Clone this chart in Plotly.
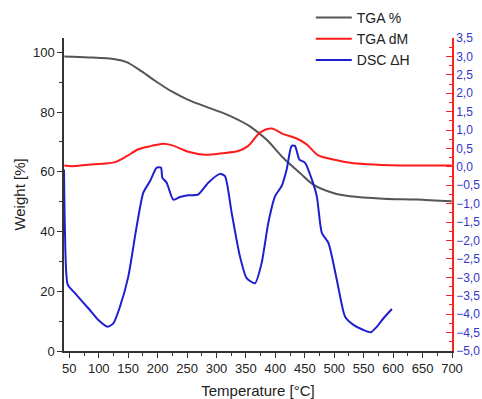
import plotly.graph_objects as go

# TGA % (left axis)
tga_x = [41.5, 82.3, 127.6, 147.5, 173, 195.5, 223.9, 252, 280.5, 308.8, 337, 356.9, 385.3,
         413.5, 441.8, 464.4, 498.4, 527, 583.3, 640, 699.5]
tga_y = [98.6, 98.3, 97.7, 96.7, 93.6, 90.5, 86.9, 84.1, 81.9, 79.9, 77.4, 75.2, 70.7,
         64.6, 59.6, 55.7, 52.9, 51.8, 51.0, 50.7, 50.1]

# TGA dM (right axis)
dm_x = [41.5, 54, 82.3, 110.6, 127.6, 147.5, 167.2, 189.9, 209.6, 223.9, 252, 280.5, 308.8,
        337, 354, 373.8, 393.7, 413.5, 436.2, 453.2, 473, 498.4, 527, 555.3, 612, 699.5]
dm_y = [0.04, 0.02, 0.06, 0.09, 0.13, 0.29, 0.48, 0.57, 0.63, 0.59, 0.41, 0.33, 0.37,
        0.43, 0.57, 0.93, 1.04, 0.89, 0.77, 0.61, 0.31, 0.20, 0.11, 0.07, 0.04, 0.04]

# DSC ΔH (right axis)
dsc_x = [41, 42.7, 47.3, 59.6, 82.3, 99.3, 115.2, 124.8, 136.2, 150.2, 164.5, 175.7, 187,
         198.4, 205.7, 208, 215.4, 226.7, 238, 252, 269, 286, 305.9, 314.4, 325.8, 339.8,
         351.2, 365.4, 376.7, 388, 399.4, 410.7, 419.2, 427.6, 433.3, 440.7, 450.5, 461.9,
         470.4, 478.9, 490.2, 504.4, 518.5, 532.6, 549.6, 562.2, 572.4, 583.7, 597.9]
dsc_y = [-0.07, -1.79, -3.20, -3.43, -3.84, -4.16, -4.34, -4.25, -3.79, -2.98, -1.61, -0.70,
         -0.39, -0.02, -0.02, -0.29, -0.43, -0.89, -0.82, -0.77, -0.75, -0.43, -0.19, -0.25,
         -1.25, -2.43, -3.02, -3.16, -2.61, -1.52, -0.80, -0.52, -0.07, 0.57, 0.57, 0.20,
         0.11, -0.34, -0.80, -1.79, -2.07, -3.07, -4.07, -4.29, -4.43, -4.49, -4.34, -4.11,
         -3.86]

x_ticks = list(range(50, 701, 50))
left_ticks = [0, 20, 40, 60, 80, 100]
right_ticks = [3.5 - 0.5 * i for i in range(18)]

font_family = "Liberation Sans, Arial, sans-serif"

fig = go.Figure()
fig.add_trace(go.Scatter(x=tga_x, y=tga_y, mode="lines", name="TGA %",
                         line=dict(color="#555555", width=2, shape="spline", smoothing=0.8)))
fig.add_trace(go.Scatter(x=dm_x, y=dm_y, mode="lines", name="TGA dM", yaxis="y2",
                         line=dict(color="#ff1a1a", width=2, shape="spline", smoothing=0.8)))
fig.add_trace(go.Scatter(x=dsc_x, y=dsc_y, mode="lines", name="DSC \u0394H", yaxis="y2",
                         line=dict(color="#1f1fd0", width=2, shape="spline", smoothing=0.6)))

fig.update_layout(
    width=482, height=399,
    margin=dict(l=64, r=30, t=38, b=48, autoexpand=False),
    paper_bgcolor="white", plot_bgcolor="white",
    separators=",.",
    font=dict(family=font_family, size=13, color="#222222"),
    showlegend=True,
    legend=dict(x=0.636, y=1.115, xanchor="left", yanchor="top",
                bgcolor="rgba(0,0,0,0)", font=dict(size=14, color="#222222"),
                tracegroupgap=0, itemwidth=36),
    xaxis=dict(range=[41, 700], tickvals=x_ticks, showgrid=False, zeroline=False,
               automargin=False,
               showline=True, linecolor="#333333", linewidth=1.5,
               ticks="outside", ticklen=5, tickcolor="#333333", tickwidth=1.2,
               minor=dict(dtick=25, tick0=25, ticks="outside", ticklen=3, tickcolor="#333333"),
               tickfont=dict(size=13, color="#222222"),
               title=dict(text="Temperature [\u00b0C]", font=dict(size=15, color="#222222"), standoff=13)),
    yaxis=dict(range=[0, 104.8], tickvals=left_ticks, showgrid=False, zeroline=False,
               automargin=False,
               showline=True, linecolor="#333333", linewidth=1.5,
               ticks="outside", ticklen=5, tickcolor="#333333", tickwidth=1.2,
               minor=dict(dtick=10, tick0=0, ticks="outside", ticklen=3, tickcolor="#333333"),
               tickfont=dict(size=13, color="#222222"),
               title=dict(text="Weight [%]", font=dict(size=15, color="#222222"), standoff=4)),
    yaxis2=dict(range=[-5, 3.5], overlaying="y", side="right", anchor="x",
                automargin=False,
                tickvals=right_ticks, tickformat=".1f", showgrid=False, zeroline=False,
                showline=True, linecolor="#ff2020", linewidth=1.5,
                ticks="inside", ticklen=6, tickcolor="#ff2020", tickwidth=1.2,
                minor=dict(dtick=0.25, tick0=0, ticks="inside", ticklen=3, tickcolor="#ff2020"),
                tickfont=dict(size=12, color="#3535c8")),
)

fig.write_html("out.html")
